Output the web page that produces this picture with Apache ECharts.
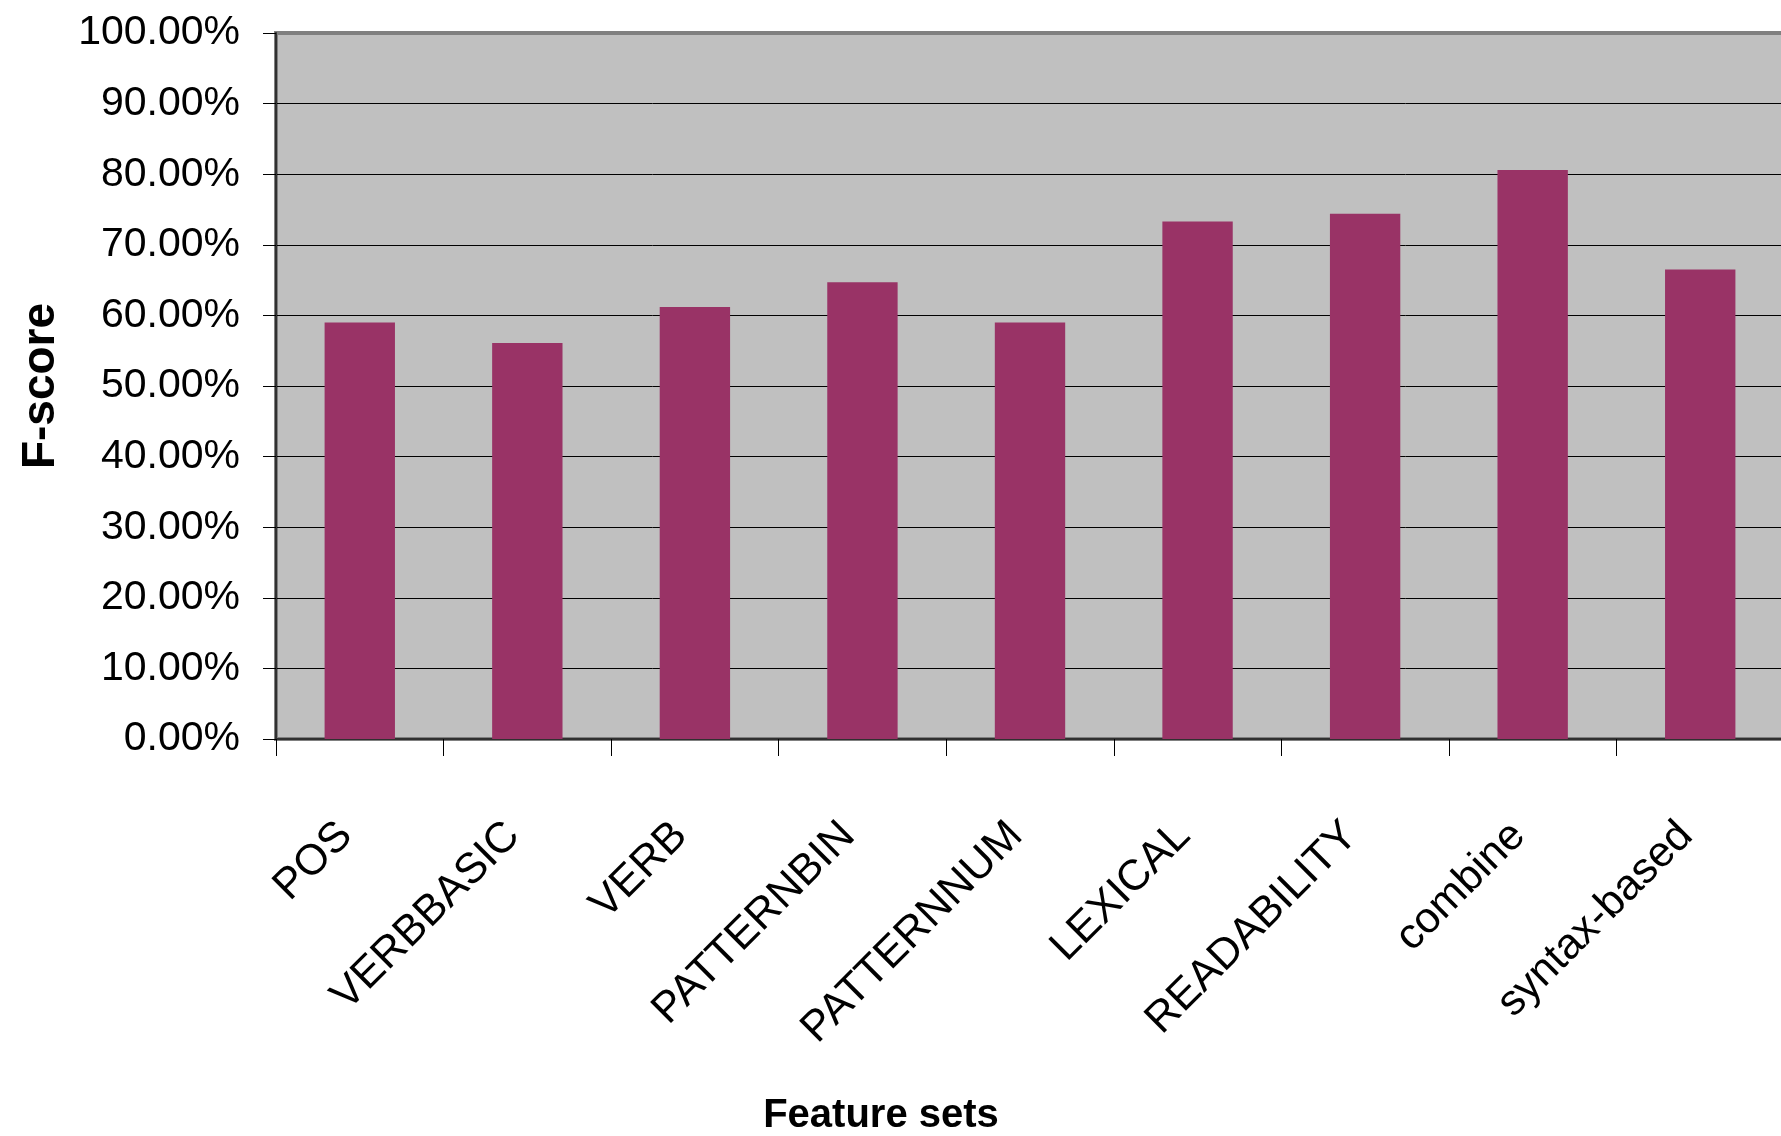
<!DOCTYPE html>
<html>
<head>
<meta charset="utf-8">
<script src="https://cdn.jsdelivr.net/npm/echarts@6/dist/echarts.min.js"></script>
<style>
html,body{margin:0;padding:0;background:#fff;}
#chart{width:1781px;height:1136px;}
</style>
</head>
<body>
<div id="chart"></div>
<script>
var categories = ['POS','VERBBASIC','VERB','PATTERNBIN','PATTERNNUM','LEXICAL','READABILITY','combine','syntax-based'];
var fscores = [59.0, 56.1, 61.2, 64.7, 59.0, 73.3, 74.4, 80.6, 66.5];
var yTicks = {min: 0, max: 100, interval: 10};
var xTitle = 'Feature sets';
var yTitle = 'F-score';

var chart = echarts.init(document.getElementById('chart'), null, {renderer: 'canvas'});
chart.setOption({
  animation: false,
  backgroundColor: '#ffffff',
  grid: {
    left: 276, top: 33, right: -3, bottom: 397,
    outerBoundsMode: 'none',
    containLabel: false,
    show: true,
    backgroundColor: '#C0C0C0',
    borderColor: '#808080',
    borderWidth: 4
  },
  xAxis: {
    type: 'category',
    data: categories,
    name: xTitle,
    nameLocation: 'middle',
    nameGap: 357,
    nameTextStyle: {
      fontFamily: 'Liberation Sans, Arial, sans-serif',
      fontWeight: 'bold',
      fontSize: 40,
      color: '#000',
      padding: [0, 298, 0, 0]
    },
    axisLine: {show: true, lineStyle: {color: '#303030', width: 2}},
    axisTick: {show: true, length: 17, lineStyle: {color: '#000', width: 1}},
    axisLabel: {
      rotate: 45,
      margin: 76,
      fontFamily: 'Liberation Sans, Arial, sans-serif',
      fontSize: 43,
      color: '#000',
      interval: 0,
      padding: [0, 20, 0, 0]
    },
    splitLine: {show: false}
  },
  yAxis: {
    type: 'value',
    min: yTicks.min,
    max: yTicks.max,
    interval: yTicks.interval,
    name: yTitle,
    nameLocation: 'middle',
    nameGap: 212,
    nameTextStyle: {
      fontFamily: 'Liberation Sans, Arial, sans-serif',
      fontWeight: 'bold',
      fontSize: 46,
      color: '#000'
    },
    axisLine: {show: true, lineStyle: {color: '#303030', width: 2}},
    axisTick: {show: true, inside: false, length: 13, lineStyle: {color: '#000', width: 1}},
    axisLabel: {
      margin: 36,
      fontFamily: 'Liberation Sans, Arial, sans-serif',
      fontSize: 41,
      color: '#000',
      padding: [0, 0, 8, 0],
      formatter: function (v) { return v.toFixed(2) + '%'; }
    },
    splitLine: {show: true, showMaxLine: false, showMinLine: false, lineStyle: {color: '#000', width: 1}}
  },
  series: [{
    type: 'bar',
    data: fscores,
    barWidth: '42%',
    itemStyle: {color: '#993366'}
  }]
});
</script>
</body>
</html>
